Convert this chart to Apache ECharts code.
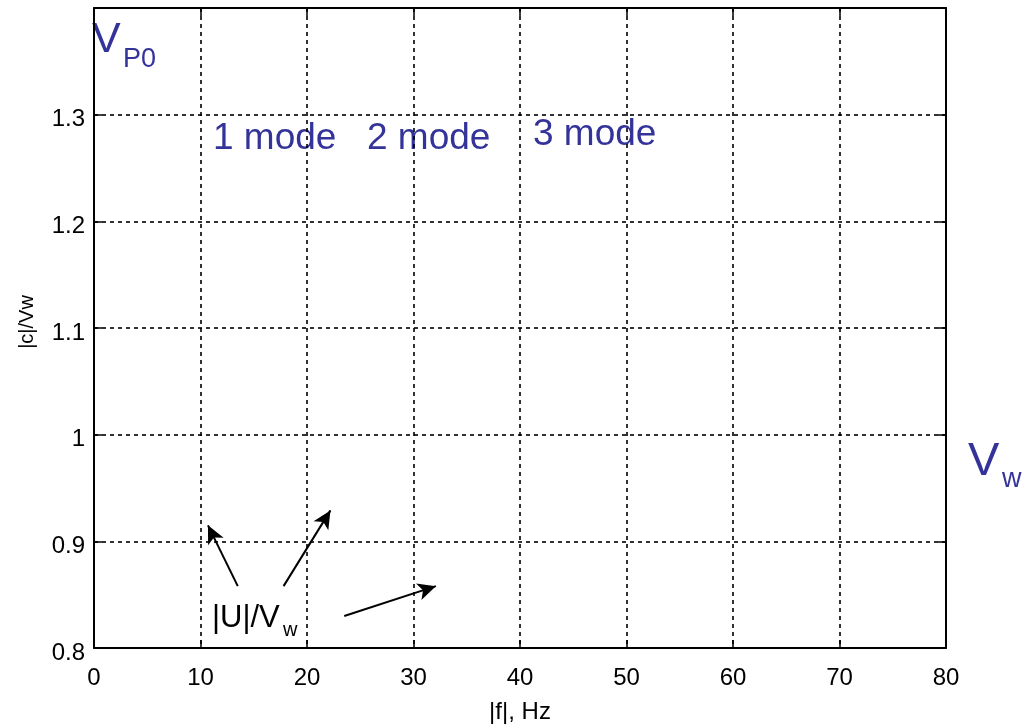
<!DOCTYPE html>
<html>
<head>
<meta charset="utf-8">
<script src="https://cdn.jsdelivr.net/npm/echarts@6/dist/echarts.min.js"></script>
<style>
  html, body { margin: 0; padding: 0; background: #fff; }
  #chart { width: 1024px; height: 725px; }
</style>
</head>
<body>
<div id="chart"></div>
<script>
// Axis ranges (frequency in Hz, normalised phase velocity)
const xRange = [0, 80];
const xStep = 10;
const yRange = [0.8, 1.4];
const yStep = 0.1;

// Arrows pointing from the |U|/Vw label towards the group-velocity curves
// each pair: [ [fromX, fromY], [toX, toY] ]
const arrowFrom = [[13.5, 0.858], [17.8, 0.858], [23.5, 0.830]];
const arrowTo   = [[10.7, 0.915], [22.2, 0.929], [32.1, 0.858]];

const ink = '#000';
const blue = '#333399';
const font = 'Liberation Sans, Arial, Helvetica, sans-serif';

const chart = echarts.init(document.getElementById('chart'), null, { renderer: 'canvas' });

const grid = { left: 94, right: 78, top: 8, bottom: 77, containLabel: false, outerBoundsMode: 'none' };
const tickIn = () => ({ show: true, inside: true, length: 8, lineStyle: { color: ink, width: 1.5 } });
const dashed = () => ({ show: true, lineStyle: { color: ink, type: [4, 4], width: 1.6 } });
const frame = () => ({ show: true, onZero: false, lineStyle: { color: ink, width: 2 } });

chart.setOption({
  animation: false,
  backgroundColor: '#fff',
  grid: grid,
  xAxis: [
    {
      type: 'value', min: xRange[0], max: xRange[1], interval: xStep,
      position: 'bottom',
      name: '|f|, Hz', nameLocation: 'middle', nameGap: 52,
      nameTextStyle: { fontFamily: font, fontSize: 24, color: ink },
      axisLine: frame(),
      axisTick: tickIn(),
      axisLabel: { inside: false, fontFamily: font, fontSize: 24, color: ink, margin: 18 },
      splitLine: dashed()
    },
    {
      type: 'value', min: xRange[0], max: xRange[1], interval: xStep,
      position: 'top',
      axisLine: frame(),
      axisTick: tickIn(),
      axisLabel: { show: false },
      splitLine: { show: false }
    }
  ],
  yAxis: [
    {
      type: 'value', min: yRange[0], max: yRange[1], interval: yStep,
      position: 'left',
      name: '|c|/Vw', nameLocation: 'middle', nameGap: 57,
      nameTextStyle: { fontFamily: font, fontSize: 20, color: ink, padding: [0, 0, 0, 12] },
      axisLine: frame(),
      axisTick: tickIn(),
      axisLabel: {
        inside: false, fontFamily: font, fontSize: 24, color: ink, margin: 9,
        verticalAlign: 'top', lineHeight: 10,
        formatter: v => (Math.abs(v - yRange[1]) < 1e-9 ? '' : String(+v.toFixed(1)))
      },
      splitLine: dashed()
    },
    {
      type: 'value', min: yRange[0], max: yRange[1], interval: yStep,
      position: 'right',
      axisLine: frame(),
      axisTick: tickIn(),
      axisLabel: { show: false },
      splitLine: { show: false }
    }
  ],
  series: [
    {
      type: 'line',
      data: [],
      silent: true,
      markLine: {
        silent: true,
        animation: false,
        symbol: ['none', 'arrow'],
        symbolSize: [13, 18],
        label: { show: false },
        lineStyle: { color: ink, width: 2, type: 'solid' },
        data: arrowFrom.map((p, i) => [{ coord: p }, { coord: arrowTo[i] }])
      }
    }
  ],
  graphic: [
    { type: 'text', left: 92, top: 19, style: { text: 'V', fontFamily: font, fontSize: 43, fill: blue } },
    { type: 'text', left: 123, top: 46, style: { text: 'P0', fontFamily: font, fontSize: 27, fill: blue } },
    { type: 'text', left: 213, top: 120, style: { text: '1 mode', fontFamily: font, fontSize: 37, fill: blue } },
    { type: 'text', left: 367, top: 120, style: { text: '2 mode', fontFamily: font, fontSize: 37, fill: blue } },
    { type: 'text', left: 533, top: 116, style: { text: '3 mode', fontFamily: font, fontSize: 37, fill: blue } },
    { type: 'text', left: 968, top: 439, style: { text: 'V', fontFamily: font, fontSize: 47, fill: blue } },
    { type: 'text', left: 1002, top: 466, style: { text: 'w', fontFamily: font, fontSize: 27, fill: blue } },
    { type: 'text', left: 212, top: 603, style: { text: '|U|/V', fontFamily: font, fontSize: 31, fill: ink } },
    { type: 'text', left: 283, top: 620, style: { text: 'w', fontFamily: font, fontSize: 20, fill: ink } }
  ]
});
</script>
</body>
</html>
